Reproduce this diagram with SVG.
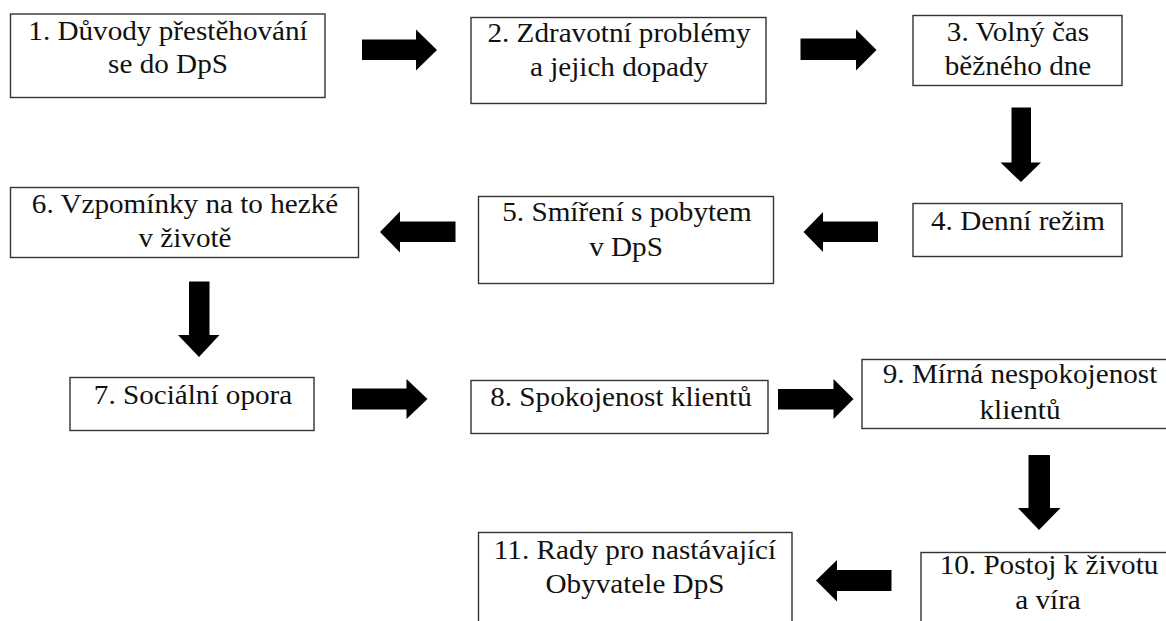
<svg xmlns="http://www.w3.org/2000/svg" width="1166" height="621" viewBox="0 0 1166 621">
<style>
.box{fill:#fff;stroke:#333;stroke-width:1.4}
.t{font-size:27px;fill:#111;text-anchor:middle}
.arr{fill:#000;stroke:none}
</style>
<rect width="1166" height="621" fill="#fff"/>
<g id="connectors">
<polygon class="arr" points="362,39.5 416,39.5 416,29.5 437,50 416,70.5 416,60 362,60"/>
<polygon class="arr" points="800.5,38.5 856,38.5 856,29.5 876.5,50 856,70.5 856,60 800.5,60"/>
<polygon class="arr" points="1011.5,107.5 1031,107.5 1031,162.5 1041,162.5 1021,182 1000.5,162.5 1011.5,162.5"/>
<polygon class="arr" points="878,221.5 878,242 823,242 823,252 803.5,232 823,212 823,221.5"/>
<polygon class="arr" points="455.5,221.5 455.5,242 400,242 400,252.5 380,232 400,211.5 400,221.5"/>
<polygon class="arr" points="189,281.5 209.5,281.5 209.5,335 219.5,335 199,357 178,335 189,335"/>
<polygon class="arr" points="352,388.5 406.5,388.5 406.5,379 427.5,399 406.5,419 406.5,409.5 352,409.5"/>
<polygon class="arr" points="778,389 833.5,389 833.5,379 853.5,399 833.5,419 833.5,409.5 778,409.5"/>
<polygon class="arr" points="1028.5,455 1050,455 1050,508 1060.5,508 1039,530 1018,508 1028.5,508"/>
<polygon class="arr" points="891.5,570 891.5,591 837,591 837,601.5 816,580.5 837,560 837,570"/>
</g>
<g style="font-family:'Times New Roman'">
<g id="n1"><rect class="box" x="10.5" y="14" width="314.5" height="83.5"/>
<text class="t" style="font-family:'Times New Roman'" transform="translate(168 0) scale(1.08 1)" x="0" y="40.5">1. Důvody přestěhování</text>
<text class="t" style="font-family:'Times New Roman'" transform="translate(168 0) scale(1.08 1)" x="0" y="73">se do DpS</text></g>
<g id="n2"><rect class="box" x="471" y="17.5" width="295" height="86"/>
<text class="t" style="font-family:'Times New Roman'" transform="translate(619 0) scale(1.08 1)" x="0" y="42.5">2. Zdravotní problémy</text>
<text class="t" style="font-family:'Times New Roman'" transform="translate(619 0) scale(1.08 1)" x="0" y="76">a jejich dopady</text></g>
<g id="n3"><rect class="box" x="913" y="15.5" width="209" height="70"/>
<text class="t" style="font-family:'Times New Roman'" transform="translate(1018 0) scale(1.08 1)" x="0" y="41.5">3. Volný čas</text>
<text class="t" style="font-family:'Times New Roman'" transform="translate(1018 0) scale(1.08 1)" x="0" y="75">běžného dne</text></g>
<g id="n4"><rect class="box" x="913" y="203.5" width="209" height="53"/>
<text class="t" style="font-family:'Times New Roman'" transform="translate(1018 0) scale(1.08 1)" x="0" y="230">4. Denní režim</text></g>
<g id="n5"><rect class="box" x="478.5" y="196.5" width="295" height="87"/>
<text class="t" style="font-family:'Times New Roman'" transform="translate(627 0) scale(1.08 1)" x="0" y="221.5">5. Smíření s pobytem</text>
<text class="t" style="font-family:'Times New Roman'" transform="translate(626 0) scale(1.08 1)" x="0" y="256">v DpS</text></g>
<g id="n6"><rect class="box" x="10.5" y="187.5" width="348" height="70"/>
<text class="t" style="font-family:'Times New Roman'" transform="translate(185 0) scale(1.08 1)" x="0" y="213.5">6. Vzpomínky na to hezké</text>
<text class="t" style="font-family:'Times New Roman'" transform="translate(185 0) scale(1.08 1)" x="0" y="247.5">v životě</text></g>
<g id="n7"><rect class="box" x="70" y="377.5" width="244" height="53"/>
<text class="t" style="font-family:'Times New Roman'" transform="translate(193 0) scale(1.08 1)" x="0" y="404">7. Sociální opora</text></g>
<g id="n8"><rect class="box" x="471" y="380.5" width="297" height="53"/>
<text class="t" style="font-family:'Times New Roman'" transform="translate(621 0) scale(1.08 1)" x="0" y="406">8. Spokojenost klientů</text></g>
<g id="n9"><rect class="box" x="862" y="359.5" width="320" height="69"/>
<text class="t" style="font-family:'Times New Roman'" transform="translate(1020 0) scale(1.08 1)" x="0" y="383">9. Mírná nespokojenost</text>
<text class="t" style="font-family:'Times New Roman'" transform="translate(1020 0) scale(1.08 1)" x="0" y="419">klientů</text></g>
<g id="n10"><rect class="box" x="921" y="552.5" width="270" height="90"/>
<text class="t" style="font-family:'Times New Roman'" transform="translate(1049 0) scale(1.08 1)" x="0" y="574">10. Postoj k životu</text>
<text class="t" style="font-family:'Times New Roman'" transform="translate(1048 0) scale(1.08 1)" x="0" y="609">a víra</text></g>
<g id="n11"><rect class="box" x="478.5" y="532.5" width="313.5" height="110"/>
<text class="t" style="font-family:'Times New Roman'" transform="translate(635 0) scale(1.08 1)" x="0" y="559">11. Rady pro nastávající</text>
<text class="t" style="font-family:'Times New Roman'" transform="translate(635 0) scale(1.08 1)" x="0" y="593">Obyvatele DpS</text></g>
</g>
</svg>
